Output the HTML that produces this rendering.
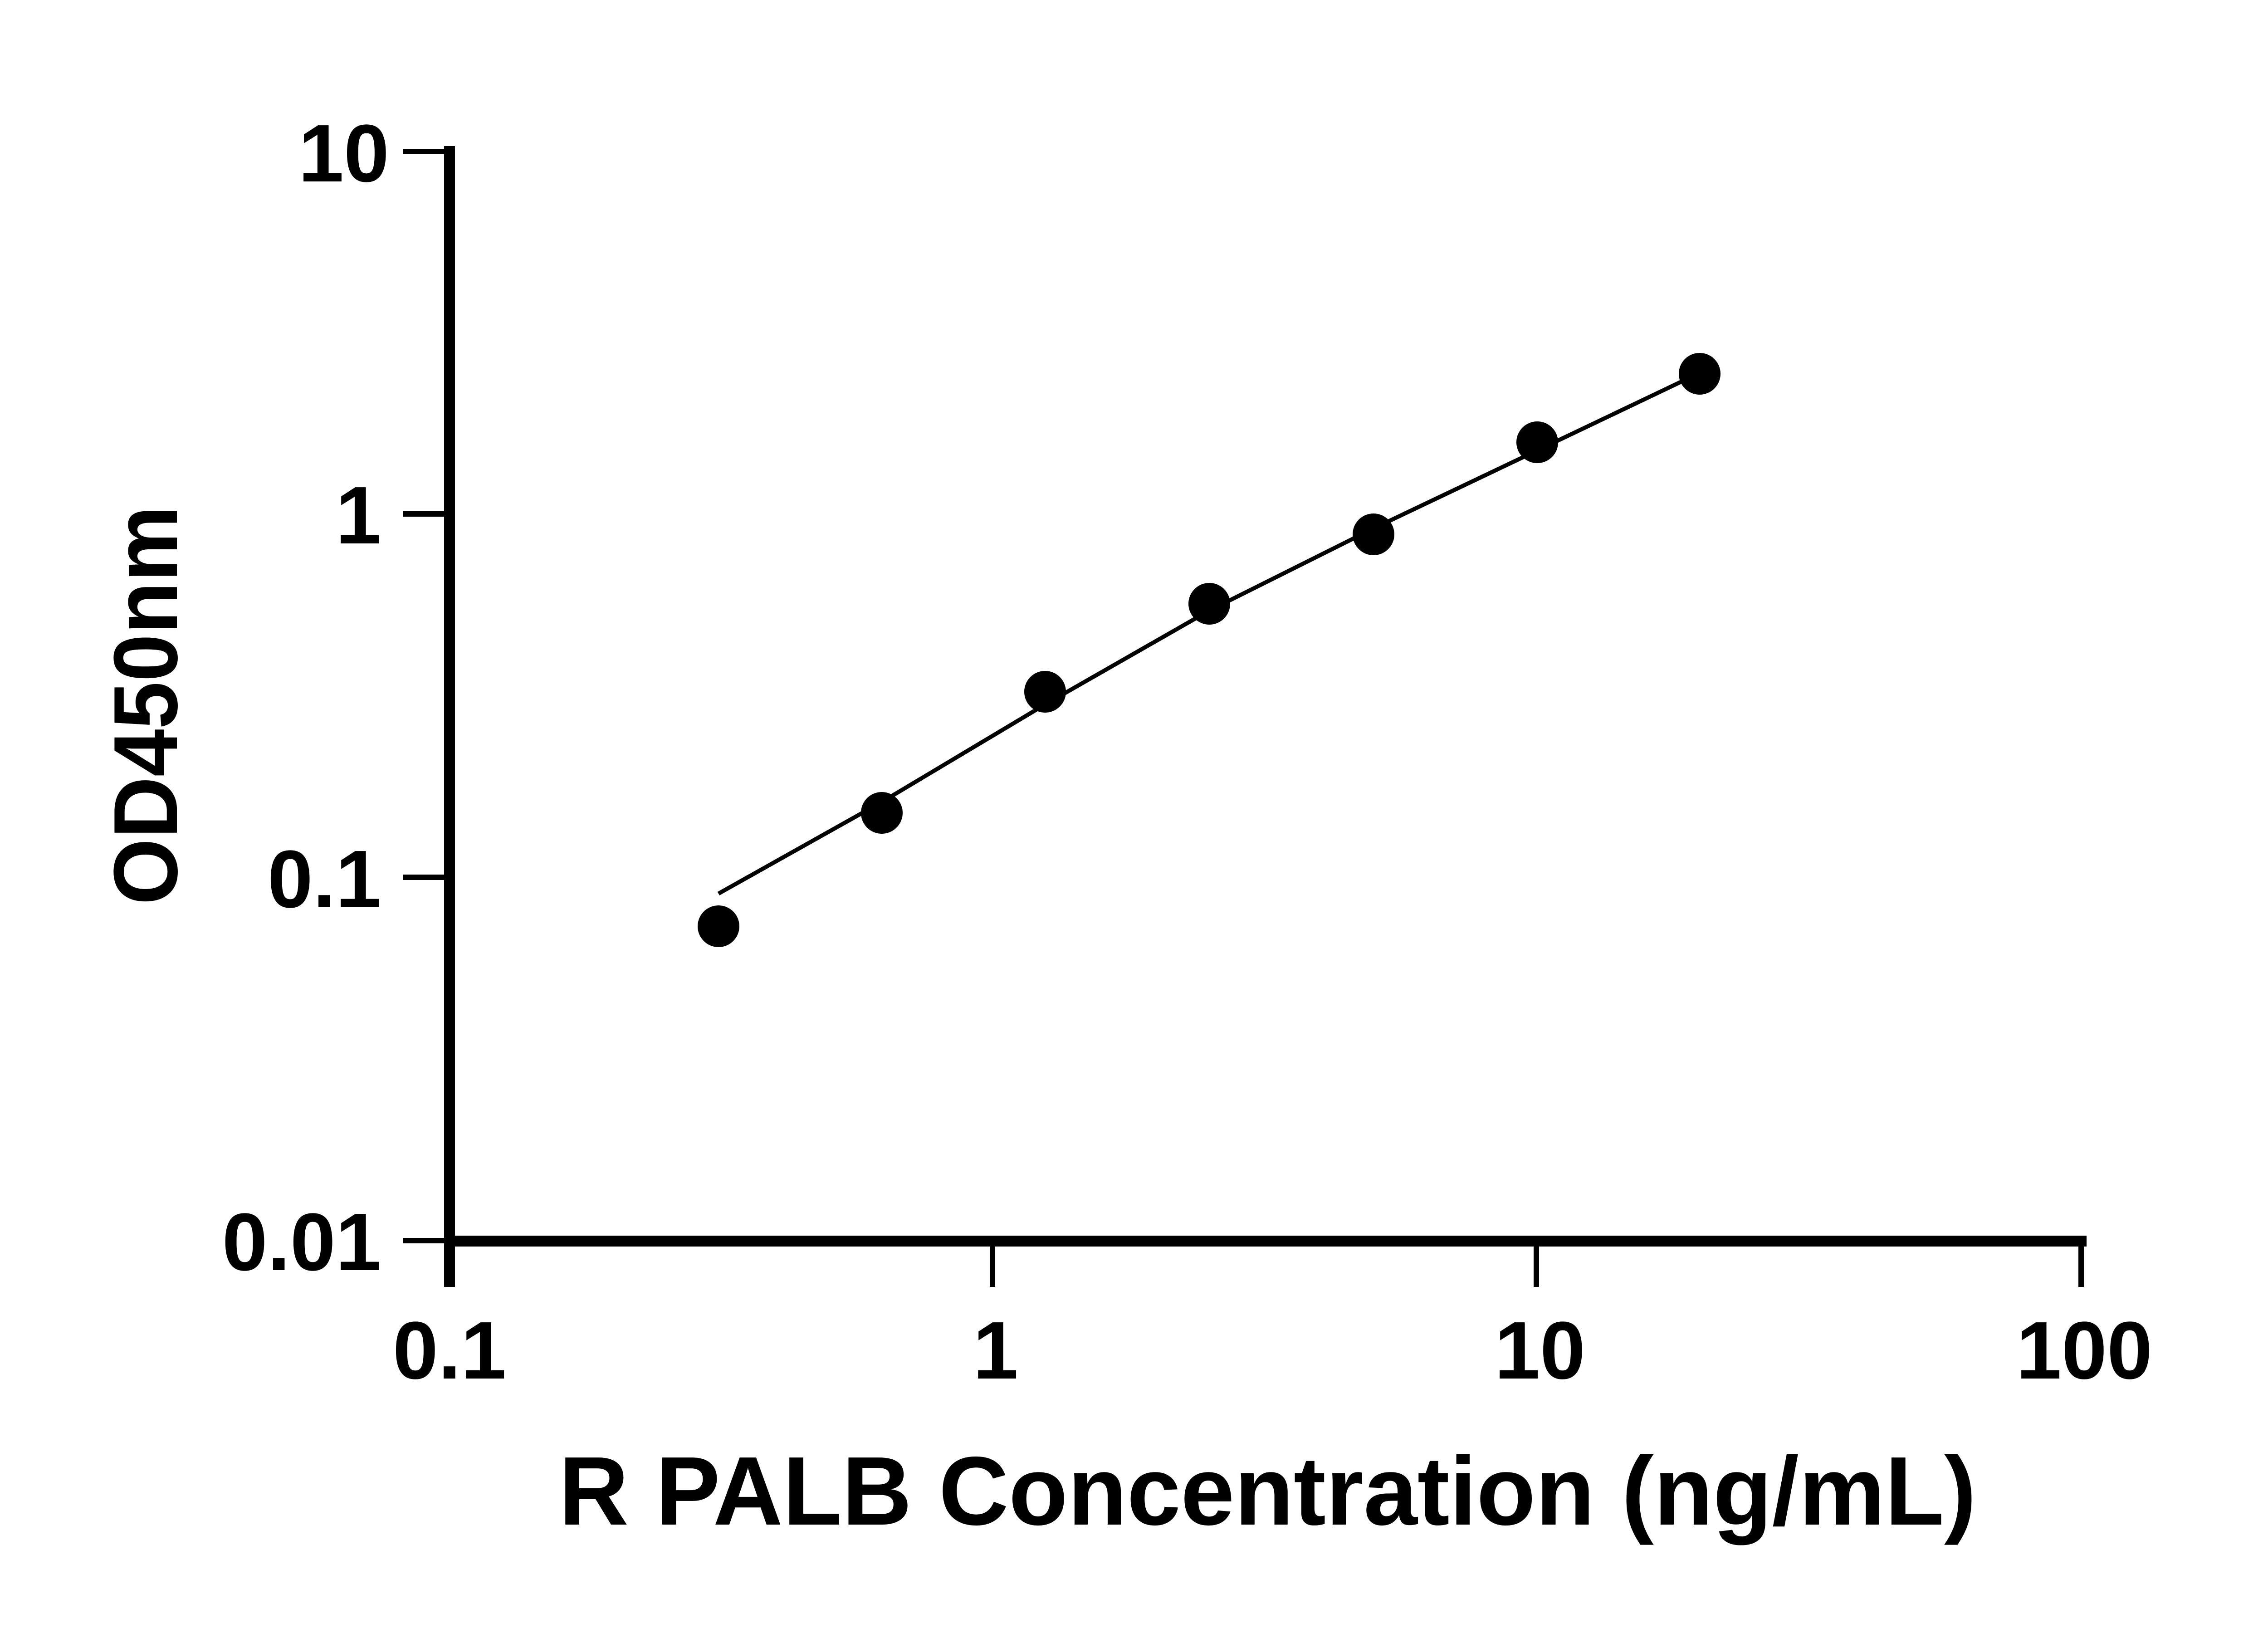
<!DOCTYPE html>
<html><head><meta charset="utf-8"><style>html,body{margin:0;padding:0;background:#fff}svg{display:block}</style></head>
<body>
<svg width="5142" height="3600" viewBox="0 0 5142 3600" xmlns="http://www.w3.org/2000/svg">
<rect width="5142" height="3600" fill="#fff"/>
<g stroke="#000" fill="none">
<line x1="991" y1="322" x2="991" y2="2837" stroke-width="24"/>
<line x1="979" y1="2736" x2="4600" y2="2736" stroke-width="24"/>
<g stroke-width="12">
<line x1="888" y1="334" x2="991" y2="334"/>
<line x1="888" y1="1133" x2="991" y2="1133"/>
<line x1="888" y1="1934" x2="991" y2="1934"/>
<line x1="888" y1="2735" x2="991" y2="2735"/>
<line x1="2188" y1="2736" x2="2188" y2="2837"/>
<line x1="3387" y1="2736" x2="3387" y2="2837"/>
<line x1="4588" y1="2736" x2="4588" y2="2837"/>
</g>
<polyline stroke-width="9" points="1584,1970 1944,1768 2304,1553 2666,1346 3028,1165 3389,993 3720,835"/>
</g>
<g fill="#000">
<circle cx="1584" cy="2042" r="46"/>
<circle cx="1944" cy="1792" r="46"/>
<circle cx="2304" cy="1525" r="46"/>
<circle cx="2666" cy="1331" r="46"/>
<circle cx="3028" cy="1178" r="46"/>
<circle cx="3389" cy="975" r="46"/>
<circle cx="3747" cy="824" r="46"/>
</g>
<g font-family="Liberation Sans, sans-serif" font-weight="bold" font-size="180" fill="#000">
<text x="858" y="400" text-anchor="end">10</text>
<text x="840" y="1198" text-anchor="end">1</text>
<text x="840" y="2000" text-anchor="end">0.1</text>
<text x="840" y="2800" text-anchor="end">0.01</text>
<text x="991" y="3039" text-anchor="middle">0.1</text>
<text x="2195" y="3039" text-anchor="middle">1</text>
<text x="3395" y="3039" text-anchor="middle">10</text>
<text x="4595" y="3039" text-anchor="middle">100</text>
<text x="1232" y="3361" font-size="215" textLength="3125" lengthAdjust="spacingAndGlyphs">R PALB Concentration (ng/mL)</text>
<text transform="translate(390,1555) rotate(-90)" text-anchor="middle" font-size="200" textLength="880" lengthAdjust="spacingAndGlyphs">OD450nm</text>
</g>
</svg>
</body></html>
